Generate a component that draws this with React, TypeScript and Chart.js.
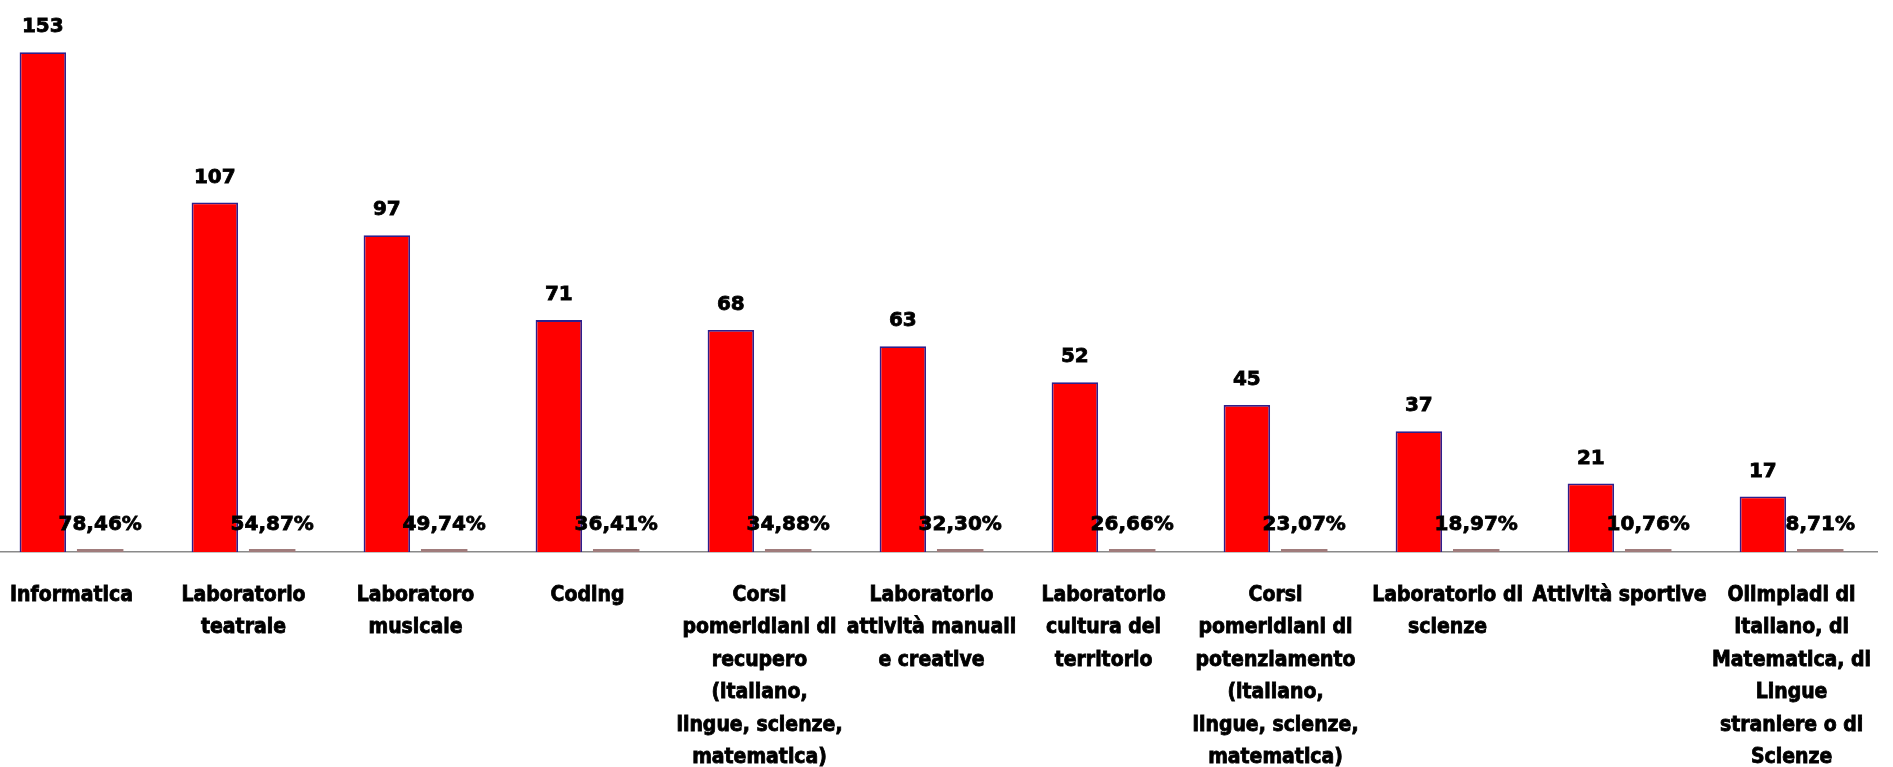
import React, { useEffect, useRef } from "react";
import { Chart, registerables } from "chart.js";

Chart.register(...registerables);

const categories: (string | string[])[] = [
  "Informatica",
  ["Laboratorio", "teatrale"],
  ["Laboratoro", "musicale"],
  "Coding",
  ["Corsi", "pomeridiani di", "recupero", "(italiano,", "lingue, scienze,", "matematica)"],
  ["Laboratorio", "attività manuali", "e creative"],
  ["Laboratorio", "cultura del", "territorio"],
  ["Corsi", "pomeridiani di", "potenziamento", "(italiano,", "lingue, scienze,", "matematica)"],
  ["Laboratorio di", "scienze"],
  "Attività sportive",
  ["Olimpiadi di", "Italiano, di", "Matematica, di", "Lingue", "straniere o di", "Scienze"],
];

const counts: number[] = [153, 107, 97, 71, 68, 63, 52, 45, 37, 21, 17];

const shares: number[] = [0.7846, 0.5487, 0.4974, 0.3641, 0.3488, 0.323, 0.2666, 0.2307, 0.1897, 0.1076, 0.0871];

const fmtCount = (v: number) => String(v);
const fmtShare = (v: number) => (v * 100).toFixed(2).replace(".", ",") + "%";

const labelPlugin = {
  id: "barLabels",
  afterDatasetsDraw(chart: any) {
    const ctx = chart.ctx;
    ctx.save();
    ctx.fillStyle = "#000";
    ctx.strokeStyle = "#000";
    ctx.lineWidth = 0.8;
    ctx.font = "bold 20px 'DejaVu Sans'";
    ctx.textAlign = "center";
    ctx.textBaseline = "middle";
    const base = chart.scales.y.getPixelForValue(0);
    chart.data.datasets.forEach((ds: any, di: number) => {
      const meta = chart.getDatasetMeta(di);
      meta.data.forEach((el: any, i: number) => {
        const v = ds.data[i];
        const txt = di === 0 ? fmtCount(v) : fmtShare(v);
        const top = di === 0 ? el.y : base - 2.5;
        ctx.strokeText(txt, el.x, top - 25);
        ctx.fillText(txt, el.x, top - 25);
      });
    });
    ctx.restore();
  },
};

export default function App() {
  const ref = useRef<HTMLCanvasElement | null>(null);

  useEffect(() => {
    if (!ref.current) return;
    const chart = new Chart(ref.current, {
      type: "bar",
      data: {
        labels: categories,
        datasets: [
          {
            data: counts,
            backgroundColor: "#FF0000",
            borderColor: "#2E1F8C",
            borderWidth: 1.8,
            barPercentage: 0.81,
            categoryPercentage: 0.667,
          },
          {
            data: shares,
            backgroundColor: "#A07C7C",
            borderColor: "#9A7A7A",
            borderWidth: 0,
            minBarLength: 3,
            barPercentage: 0.81,
            categoryPercentage: 0.667,
          },
        ],
      },
      options: {
        animation: false,
        responsive: true,
        maintainAspectRatio: false,
        layout: { padding: { top: 0, left: 0, right: 0, bottom: 0 } },
        plugins: {
          legend: { display: false },
          tooltip: { enabled: false },
          title: { display: false },
        },
        scales: {
          x: {
            offset: true,
            grid: { display: false, drawTicks: false },
            border: { display: true, color: "#8a8a8a", width: 1.5 },
            ticks: {
              color: "#000",
              textStrokeColor: "#000",
              textStrokeWidth: 0.8,
              padding: 27,
              maxRotation: 0,
              minRotation: 0,
              autoSkip: false,
              font: {
                family: "'DejaVu Sans Condensed', 'DejaVu Sans', sans-serif",
                weight: "bold",
                size: 21,
                lineHeight: 1.55,
              },
            },
            afterFit: (scale: any) => {
              scale.height = 215;
            },
          },
          y: {
            display: false,
            min: 0,
            max: 169,
          },
        },
      },
      plugins: [labelPlugin],
    });
    return () => chart.destroy();
  }, []);

  return (
    <div style={{ position: "fixed", left: 0, top: 0, width: "100vw", height: "100vh", overflow: "hidden", background: "#fff" }}>
      <div style={{ position: "absolute", left: -16, top: 0, width: 1914, height: 767 }}>
        <canvas ref={ref} />
      </div>
    </div>
  );
}
